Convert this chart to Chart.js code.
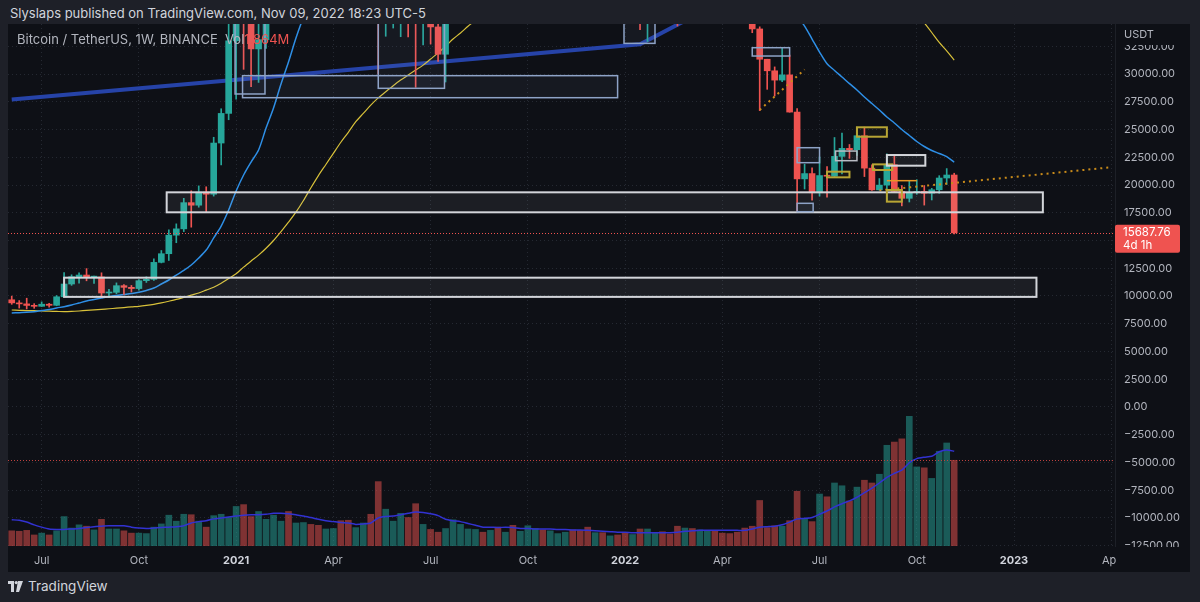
<!DOCTYPE html>
<html>
<head>
<meta charset="utf-8">
<script src="https://cdn.jsdelivr.net/npm/chart.js@4.4.0/dist/chart.umd.min.js"></script>
<style>
html, body { margin: 0; padding: 0; width: 1200px; height: 602px; overflow: hidden; background: #1e2028; font-family: Inter, "Noto Sans", sans-serif; }
#head { position: absolute; left: 10px; top: 5px; color: #d1d4dc; font-size: 13px; }
#panel { position: absolute; left: 8px; top: 24px; width: 1182px; height: 548px; background: #0e1016; }
#legend { position: absolute; left: 17px; top: 31px; color: #b2b5be; font-size: 13px; z-index: 2; }
#legend .v { color: #ef5350; }
#foot { position: absolute; left: 8px; top: 578px; color: #d1d4dc; font-size: 13.5px; display: flex; align-items: center; gap: 5px; }
</style>
</head>
<body>
<div id="head">Slyslaps published on TradingView.com, Nov 09, 2022 18:23 UTC-5</div>
<div id="panel"><canvas id="chart" width="1182" height="548"></canvas></div>
<div id="legend">Bitcoin / TetherUS, 1W, BINANCE&nbsp;&nbsp;Vol<span class="v" id="volval"></span></div>
<div id="foot">
  <svg width="15" height="11" viewBox="0 0 15 11"><rect x="0" y="0" width="6" height="3" fill="#d1d4dc"/><rect x="3" y="0" width="3" height="11" fill="#d1d4dc"/><circle cx="8.2" cy="1.6" r="1.6" fill="#d1d4dc"/><polygon points="10,0 15,0 11,11 8,11" fill="#d1d4dc"/></svg>
  <span>TradingView</span>
</div>
<script>
// weekly candles, first bar is the week of 8 Jun 2020
const firstWeek = '2020-06-08';
const weekCount = 148; // shown slots, incl. empty weeks up to Apr 2023

const opens = [9660,9380,9290,9150,9070,9260,9160,9930,11080,11740,
  11890,11700,11720,10270,10330,10930,10780,10670,11380,11500,
  13030,13810,15480,16050,18410,18180,19360,19170,23780,26450,
  32990,38150,36020,32260,33090,38880,47170,57410,45240,50970,
  59020,57350,55810,57060,59770,56250,49070,56620,58230,46430,
  34770,35660,35800,39020,35490,34700,35290,34240,31780,35400,
  41460,44420,47050,49250,48900,51750,46060,47260,43160,48200,
  54660,61530,60860,61300,63270,65500,58600,57270,49390,50100,
  46680,50780,47300,41860,43080,36280,38460,42410,42200,38350,
  37700,38800,37780,41260,46820,46400,42150,40380,39450,38470,
  34060,31330,30290,29450,29920,26570,20550,21030,19300,20850,
  20790,22580,23300,23180,24440,21520,19560,19990,21830,19420,
  18800,19310,19420,19260,19570,20630,20900];
const highs = [9990,9590,9800,9310,9470,9350,10040,12120,11910,12080,
  12470,11800,12090,10600,11180,11020,10950,11490,11730,13350,
  14100,15960,16500,18800,19480,19920,19840,24300,26870,34780,
  41950,40100,37850,38530,40960,48200,58350,57540,52640,61840,
  61180,58400,60000,61400,64850,57520,58460,59500,59600,46650,
  40900,39480,41330,41060,35750,36600,35970,34680,35500,42600,
  44800,48140,49380,50500,52900,52920,48850,47350,49200,56560,
  62930,67000,63710,64270,69000,66400,59300,59100,51950,50690,
  52090,52090,47550,44460,43500,38920,42500,45850,44750,39950,
  45400,42600,42330,46990,48190,47450,42420,42970,40800,40020,
  34250,31330,30640,32400,31700,26880,21870,21540,22530,21660,
  24280,24670,23650,25210,25210,21820,20580,22800,22670,19950,
  20380,20480,19950,19700,20840,21480,21060];
const lows = [9250,8910,8830,8890,9050,9000,9120,9900,10960,11150,
  11370,11130,9870,9880,10200,10140,10360,10530,11220,11410,
  12980,13200,14800,15800,16200,18000,17600,19000,21810,25880,
  27730,30420,28850,29240,32300,37990,46620,43000,44950,49300,
  53300,50430,55600,55470,51300,47000,48750,53400,43820,30000,
  33400,34140,33360,33340,28800,32620,32700,31130,29280,35210,
  37330,43800,43950,46370,46510,42800,44700,39600,40750,46900,
  53800,59500,57820,59400,62280,55600,53250,42000,46800,45500,
  45550,45680,40500,39650,34000,32920,36250,41650,37880,34320,
  37450,37150,37550,40470,44200,41870,39200,38540,37700,33720,
  26700,28620,28020,29300,26560,17620,19640,18630,19000,18910,
  20760,21000,22400,22660,20760,19520,19540,18540,19320,18120,
  18470,19160,18190,18650,19250,20050,15590];
const closes = [9380,9290,9150,9070,9260,9160,9930,11080,11740,11890,
  11700,11720,10270,10330,10930,10780,10670,11380,11500,13030,
  13810,15480,16050,18410,18180,19360,19170,23780,26450,32990,
  38150,36020,32260,33090,38880,47170,57410,45240,50970,59020,
  57350,55810,57060,59770,56250,49070,56620,58230,46430,34770,
  35660,35800,39020,35490,34700,35290,34240,31780,35400,41460,
  44420,47050,49250,48900,51750,46060,47260,43160,48200,54660,
  61530,60860,61300,63270,65500,58600,57270,49390,50100,46680,
  50780,47300,41860,43080,36280,38460,42410,42200,38350,37700,
  38800,37780,41260,46820,46400,42150,40380,39450,38470,34060,
  31330,30290,29450,29920,26570,20550,21030,19300,20850,20790,
  22580,23300,23180,24440,21520,19560,19990,21830,19420,18800,
  19310,19420,19260,19570,20630,20900,15687.76];

// volume in millions of BTC
const volumes = [0.33,0.32,0.34,0.24,0.28,0.24,0.33,0.64,0.39,0.46,
  0.43,0.35,0.58,0.37,0.37,0.33,0.28,0.28,0.27,0.41,
  0.48,0.67,0.54,0.69,0.68,0.54,0.41,0.66,0.69,0.62,
  0.86,0.90,0.64,0.75,0.58,0.67,0.54,0.75,0.50,0.51,
  0.47,0.45,0.37,0.38,0.55,0.56,0.40,0.50,0.69,1.40,
  0.80,0.54,0.71,0.62,0.92,0.47,0.36,0.30,0.38,0.57,
  0.47,0.37,0.36,0.30,0.34,0.41,0.30,0.45,0.32,0.44,
  0.38,0.35,0.33,0.27,0.30,0.35,0.34,0.41,0.29,0.29,
  0.22,0.24,0.28,0.25,0.37,0.37,0.28,0.31,0.26,0.43,
  0.39,0.38,0.35,0.33,0.33,0.28,0.27,0.30,0.39,0.43,
  0.99,0.40,0.44,0.43,0.55,1.19,0.59,0.53,1.13,1.07,
  1.37,1.31,0.98,1.28,1.43,1.37,1.56,2.19,2.26,2.33,
  2.82,1.72,1.70,1.47,2.06,2.24,1.864];
const volumeMa = [0.57,0.56,0.52,0.46,0.41,0.37,0.36,0.36,0.37,0.38,
  0.40,0.42,0.43,0.44,0.44,0.44,0.41,0.39,0.38,0.39,
  0.40,0.41,0.42,0.44,0.50,0.53,0.55,0.59,0.61,0.63,
  0.65,0.67,0.68,0.68,0.69,0.71,0.71,0.70,0.68,0.65,
  0.62,0.58,0.55,0.53,0.51,0.50,0.47,0.48,0.50,0.61,
  0.64,0.65,0.68,0.71,0.74,0.73,0.70,0.66,0.58,0.55,
  0.53,0.49,0.45,0.41,0.41,0.40,0.41,0.40,0.38,0.38,
  0.37,0.37,0.37,0.36,0.36,0.35,0.35,0.34,0.33,0.32,
  0.31,0.30,0.30,0.29,0.29,0.29,0.29,0.29,0.29,0.30,
  0.32,0.33,0.34,0.34,0.34,0.34,0.34,0.34,0.34,0.37,
  0.41,0.42,0.43,0.46,0.52,0.59,0.60,0.62,0.69,0.76,
  0.85,0.92,0.98,1.06,1.16,1.26,1.37,1.49,1.58,1.65,
  1.81,1.90,1.93,1.95,2.05,2.09,2.06];

// moving averages
const maFast = [8470,8500,8530,8590,8690,8780,8920,9040,9190,9370,
  9550,9680,9820,9950,10040,10130,10220,10330,10500,10720,
  11080,11440,11890,12300,12790,13420,14140,15230,16300,17750,
  19460,20900,22070,23150,25130,26940,29100,31080,33240,35130,
  36800,38700,40500,42300,44000,45200,46300,47300,47500,46800,
  46100,45400,44900,44300,43600,42900,42200,41300,40700,40500,
  40500,40700,41000,41400,41900,42400,42800,43000,43400,44200,
  45300,46400,47400,48400,49500,50300,51000,51300,51500,51600,
  51700,51600,51200,50700,49900,49200,48600,48000,47200,46400,
  45700,44900,44300,44000,43700,43200,42700,42100,41500,40700,
  39700,38700,37800,36900,36000,35200,34320,33150,31980,30930,
  30320,29730,29130,28560,27930,27340,26760,26130,25590,25000,
  24460,23920,23470,23110,22840,22550,22050];
const maSlow = [8740,8710,8690,8680,8660,8630,8610,8590,8610,8650,
  8700,8750,8800,8850,8900,8960,9020,9070,9150,9250,
  9380,9530,9690,9880,10080,10270,10530,10790,11150,11580,
  12000,12600,13150,13680,14300,15000,15800,16650,17550,18600,
  19750,20850,21850,22850,23850,24750,25700,26450,27200,27850,
  28400,28950,29450,29900,30350,30800,31350,31900,32500,33150,
  33700,34300,34850,35450,36050,36600,37150,37700,38250,38850,
  39500,40150,40800,41450,42100,42700,43250,43650,44050,44350,
  44650,44900,45050,45150,45150,45150,45100,45050,45000,44950,
  44900,44850,44850,44900,44950,44950,44900,44844,44685,44671,
  44584,44474,44283,44172,44009,43714,43450,43200,42910,42497,
  42060,41585,41064,40575,39970,39395,38850,38423,37847,37130,
  36285,35456,34615,33740,32845,32090,31260];

// price axis ticks
const priceTicks = [-12500,-10000,-7500,-5000,-2500,0,2500,5000,7500,10000,
  12500,15000,17500,20000,22500,25000,27500,30000,32500];

// drawn trend lines (date, price)
const trendDates = ['2020-06-08', '2022-01-17', '2022-03-14'];
const trendPrices = [27700, 32680, 35500];
const dotsShortDates = ['2022-05-09', '2022-06-20'];
const dotsShortPrices = [26760, 30400];
const dotsLongDates = ['2022-08-29', '2023-04-03'];
const dotsLongPrices = [19520, 21600];

// drawn rectangles (start, end, top price, bottom price, kind)
const boxStart  = ['2020-10-31','2020-07-27','2021-01-10','2021-01-03','2021-05-17','2022-01-02','2022-05-02','2022-06-13','2022-06-13','2022-08-08','2022-07-11','2022-07-19','2022-08-23','2022-09-05','2022-09-05','2022-09-05'];
const boxEnd    = ['2023-01-29','2023-01-23','2021-12-27','2021-01-31','2021-07-18','2022-01-31','2022-06-06','2022-07-04','2022-06-28','2022-09-05','2022-08-01','2022-08-08','2022-09-10','2022-10-11','2022-09-19','2022-10-03'];
const boxTop    = [19340,11650,29850,36000,36000,36000,32370,23360,18350,25200,21200,23060,21860,22700,19550,20390];
const boxBottom = [17540, 9920,27865,28200,28710,32760,31620,22010,17595,24350,20690,22190,21350,21740,18500,20390];
const boxKind   = ['range','range','zone','zone','zone','zone','zone','zone','zone','gold','gold','grey','gold','range','gold','level'];

const monthNames = ['Jan','Feb','Mar','Apr','May','Jun','Jul','Aug','Sep','Oct','Nov','Dec'];
const countdown = '4d 1h';

const DAY = 864e5;
const t0 = Date.parse(firstWeek);
function weekPos(d) { return (Date.parse(d) - t0) / (7 * DAY); }
const weekDates = Array.from({ length: weekCount }, (_, i) => new Date(t0 + i * 7 * DAY));
const labels = weekDates.map(d => d.toISOString().slice(0, 10));

function sparse(dates, prices) {
    const arr = new Array(weekCount).fill(null);
    dates.forEach((d, k) => { arr[Math.round(weekPos(d))] = prices[k]; });
    return arr;
}

const UP = '#26a69a', DOWN = '#ef5350';
const isUp = closes.map((c, i) => c >= opens[i]);
const candleColors = isUp.map(u => u ? UP : DOWN);
const volColors = isUp.map(u => u ? 'rgba(38,166,154,0.5)' : 'rgba(239,83,80,0.5)');

document.getElementById('volval').textContent = volumes[volumes.length - 1].toFixed(3) + 'M';

const boxStyles = {
    range: { fill: 'rgba(215,220,230,0.07)', line: '#d3d5da', width: 2 },
    zone:  { fill: 'rgba(150,175,220,0.06)', line: '#8ea3c7', width: 1.5 },
    gold:  { fill: 'rgba(220,200,60,0.04)', line: '#b8a534', width: 2 },
    grey:  { fill: 'rgba(255,255,255,0.05)', line: '#b9bcc4', width: 1.5 },
    level: { fill: 'rgba(0,0,0,0)', line: '#e99725', width: 1.5 }
};

const PANEL_BG = '#0e1016';
const FONT = 'Inter, "Noto Sans", sans-serif';

const overlay = {
    id: 'overlay',
    afterDatasetsDraw(chart) {
        const { ctx, chartArea: a, scales } = chart;
        const x = scales.x, y = scales.y, yv = scales.yv;
        ctx.save();
        ctx.beginPath();
        ctx.rect(a.left, a.top, a.right - a.left, a.bottom - a.top);
        ctx.clip();
        boxStart.forEach((d, k) => {
            const x1 = x.getPixelForValue(weekPos(d));
            const x2 = x.getPixelForValue(weekPos(boxEnd[k]));
            const y1 = y.getPixelForValue(boxTop[k]);
            const y2 = y.getPixelForValue(boxBottom[k]);
            const st = boxStyles[boxKind[k]];
            ctx.fillStyle = st.fill;
            ctx.fillRect(x1, y1, x2 - x1, y2 - y1);
            ctx.strokeStyle = st.line;
            ctx.lineWidth = st.width;
            if (y1 === y2) {
                ctx.beginPath(); ctx.moveTo(x1, y1); ctx.lineTo(x2, y1); ctx.stroke();
            } else {
                ctx.strokeRect(x1, y1, x2 - x1, y2 - y1);
            }
        });
        // last price / last volume lines
        ctx.setLineDash([1, 2]);
        ctx.lineWidth = 1;
        ctx.strokeStyle = '#f05350';
        const py = Math.round(y.getPixelForValue(closes[closes.length - 1])) + 0.5;
        ctx.beginPath(); ctx.moveTo(a.left, py); ctx.lineTo(a.right, py); ctx.stroke();
        ctx.strokeStyle = '#c0423f';
        const vy = Math.round(yv.getPixelForValue(volumes[volumes.length - 1])) + 0.5;
        ctx.beginPath(); ctx.moveTo(a.left, vy); ctx.lineTo(a.right, vy); ctx.stroke();
        ctx.restore();
    },
    afterDraw(chart) {
        const { ctx, chartArea: a, scales: { y } } = chart;
        const w = chart.width, h = chart.height;
        ctx.save();
        // scale header and bottom cut-off
        ctx.fillStyle = PANEL_BG;
        ctx.fillRect(a.right + 1, 0, w - a.right, 21);
        ctx.fillRect(a.right + 1, a.bottom + 1, w - a.right, h - a.bottom);
        ctx.fillStyle = '#b2b5be';
        ctx.font = '11px ' + FONT;
        ctx.textBaseline = 'middle';
        ctx.fillText('USDT', a.right + 9, 11);
        // price tag
        const py = y.getPixelForValue(closes[closes.length - 1]);
        ctx.fillStyle = '#ef5350';
        ctx.beginPath();
        ctx.roundRect(a.right, py - 8, 65, 28, 2);
        ctx.fill();
        ctx.fillStyle = '#ffffff';
        ctx.font = '11.5px ' + FONT;
        ctx.fillText(closes[closes.length - 1].toFixed(2), a.right + 8, py);
        ctx.fillText(countdown, a.right + 8, py + 13);
        ctx.restore();
    }
};

new Chart(document.getElementById('chart'), {
    type: 'bar',
    data: {
        labels: labels,
        datasets: [
            { label: 'Volume', data: volumes, yAxisID: 'yv', backgroundColor: volColors, barThickness: 6, grouped: false, order: 9 },
            { type: 'line', label: 'Volume MA', data: volumeMa, yAxisID: 'yv', borderColor: '#3232d2', borderWidth: 1.5, pointRadius: 0, tension: 0.2, order: 8 },
            { type: 'line', label: 'Trend', data: sparse(trendDates, trendPrices), yAxisID: 'y', borderColor: '#2643a8', borderWidth: 4, pointRadius: 0, spanGaps: true, order: 7 },
            { type: 'line', label: 'MA slow', data: maSlow, yAxisID: 'y', borderColor: '#d8c13a', borderWidth: 1.2, pointRadius: 0, tension: 0.3, order: 6 },
            { type: 'line', label: 'MA fast', data: maFast, yAxisID: 'y', borderColor: '#2e8fe6', borderWidth: 1.5, pointRadius: 0, tension: 0.3, order: 5 },
            { label: 'Wick', data: lows.map((l, i) => [l, highs[i]]), yAxisID: 'y', backgroundColor: candleColors, barThickness: 1, grouped: false, order: 4 },
            { label: 'Body', data: opens.map((o, i) => [o, closes[i]]), yAxisID: 'y', backgroundColor: candleColors, barThickness: 6, minBarLength: 1, grouped: false, order: 3 },
            { type: 'line', label: 'Dots 1', data: sparse(dotsShortDates, dotsShortPrices), yAxisID: 'y', borderColor: '#c98b1a', borderWidth: 2, borderDash: [2, 4], pointRadius: 0, spanGaps: true, order: 2 },
            { type: 'line', label: 'Dots 2', data: sparse(dotsLongDates, dotsLongPrices), yAxisID: 'y', borderColor: '#c98b1a', borderWidth: 2, borderDash: [2, 4], pointRadius: 0, spanGaps: true, order: 1 }
        ]
    },
    options: {
        responsive: false,
        animation: false,
        events: [],
        layout: { padding: 0 },
        plugins: { legend: { display: false }, tooltip: { enabled: false } },
        scales: {
            x: {
                type: 'category',
                offset: true,
                grid: { offset: false, color: '#252932', drawTicks: false },
                border: { display: false, dash: [1, 3] },
                afterFit(scale) { scale.height = 26; scale.paddingLeft = 0; scale.paddingRight = 0; },
                ticks: {
                    autoSkip: false,
                    maxRotation: 0,
                    padding: 8,
                    color: ctx => /^\d{4}$/.test(ctx.tick && ctx.tick.label) ? '#d1d4dc' : '#b2b5be',
                    font: ctx => ({ family: FONT, size: 11, weight: /^\d{4}$/.test(ctx.tick && ctx.tick.label) ? 'bold' : 'normal' }),
                    callback(value, index) {
                        if (index === 0) return null;
                        const d = weekDates[index], p = weekDates[index - 1];
                        const m = d.getUTCMonth();
                        if (m === p.getUTCMonth() || m % 3 !== 0) return null;
                        return m === 0 ? String(d.getUTCFullYear()) : monthNames[m];
                    }
                }
            },
            y: {
                position: 'right',
                min: -12523,
                max: 34505,
                grid: { color: '#252932', drawTicks: false },
                border: { display: true, color: '#1d2027', dash: [1, 3] },
                afterBuildTicks(scale) { scale.ticks = priceTicks.map(v => ({ value: v })); },
                afterFit(scale) { scale.width = 75; scale.paddingTop = 0; scale.paddingBottom = 0; },
                ticks: {
                    padding: 9,
                    color: '#b2b5be',
                    font: { family: FONT, size: 11 },
                    callback: v => (v < 0 ? '\u2212' : '') + Math.abs(v).toFixed(2)
                }
            },
            yv: { display: false, min: 0, max: 11.35 }
        }
    },
    plugins: [overlay]
});
</script>
</body>
</html>
